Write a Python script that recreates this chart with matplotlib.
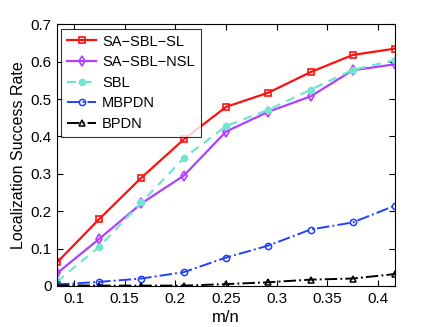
import numpy as np
import matplotlib
matplotlib.use('Agg')
import matplotlib.pyplot as plt

# m/n values (k/24, k = 2..10)
m_over_n = [2/24, 3/24, 4/24, 5/24, 6/24, 7/24, 8/24, 9/24, 10/24]

sa_sbl_sl = [0.063, 0.179, 0.290, 0.392, 0.479, 0.517, 0.572, 0.618, 0.635]
sa_sbl_nsl = [0.034, 0.126, 0.221, 0.295, 0.413, 0.466, 0.507, 0.577, 0.593]
sbl = [0.012, 0.105, 0.224, 0.342, 0.428, 0.471, 0.525, 0.578, 0.604]
mbpdn = [0.004, 0.011, 0.020, 0.037, 0.076, 0.108, 0.151, 0.170, 0.215]
bpdn = [0.002, 0.001, 0.001, 0.001, 0.005, 0.010, 0.017, 0.020, 0.032]

x_ticks = [0.1, 0.15, 0.2, 0.25, 0.3, 0.35, 0.4]
x_tick_labels = ['0.1', '0.15', '0.2', '0.25', '0.3', '0.35', '0.4']
y_ticks = [0, 0.1, 0.2, 0.3, 0.4, 0.5, 0.6, 0.7]
y_tick_labels = ['0', '0.1', '0.2', '0.3', '0.4', '0.5', '0.6', '0.7']

plt.rcParams['font.family'] = ['Liberation Sans', 'DejaVu Sans']

fig = plt.figure(figsize=(4.36, 3.27), dpi=100)
ax = fig.add_axes([0.1307, 0.1254, 0.7753, 0.8003])

ax.plot(m_over_n, sa_sbl_sl, '-', color='#ff1010', lw=1.6, marker='s', ms=4.5,
        mfc='none', mew=1.2, label='SA\u2212SBL\u2212SL')
ax.plot(m_over_n, sa_sbl_nsl, '-', color='#b040ff', lw=1.6, marker='d', ms=5,
        mfc='none', mew=1.2, label='SA\u2212SBL\u2212NSL')
ax.plot(m_over_n, sbl, '--', color='#70e6d0', lw=1.6, marker='o', ms=4.5,
        mfc='#70e6d0', mec='#70e6d0', label='SBL', dashes=(4, 3))
ax.plot(m_over_n, mbpdn, '-.', color='#2040ff', lw=1.4, marker='o', ms=4.5,
        mfc='none', mew=1.1, label='MBPDN')
ax.plot(m_over_n, bpdn, '-.', color='black', lw=1.4, marker='^', ms=5,
        mfc='none', mew=1.1, label='BPDN')

ax.set_xlim(m_over_n[0], m_over_n[-1])
ax.set_ylim(0, 0.7)
ax.set_xticks(x_ticks)
ax.set_xticklabels(x_tick_labels)
ax.set_yticks(y_ticks)
ax.set_yticklabels(y_tick_labels)
ax.tick_params(direction='in', length=4, width=0.8, top=True, right=True,
               labelsize=11, pad=4)
for s in ax.spines.values():
    s.set_linewidth(0.8)

ax.set_xlabel('m/n', fontsize=12, labelpad=3)
ax.set_ylabel('Localization Success Rate', fontsize=11.5, labelpad=3)

leg = ax.legend(loc='upper left', fontsize=10.5, frameon=True, fancybox=False,
                edgecolor='black', borderaxespad=0.3, handlelength=2.0,
                labelspacing=0.45, borderpad=0.4, handletextpad=0.4)
leg.get_frame().set_linewidth(0.8)

plt.savefig('out.png', dpi=100)
